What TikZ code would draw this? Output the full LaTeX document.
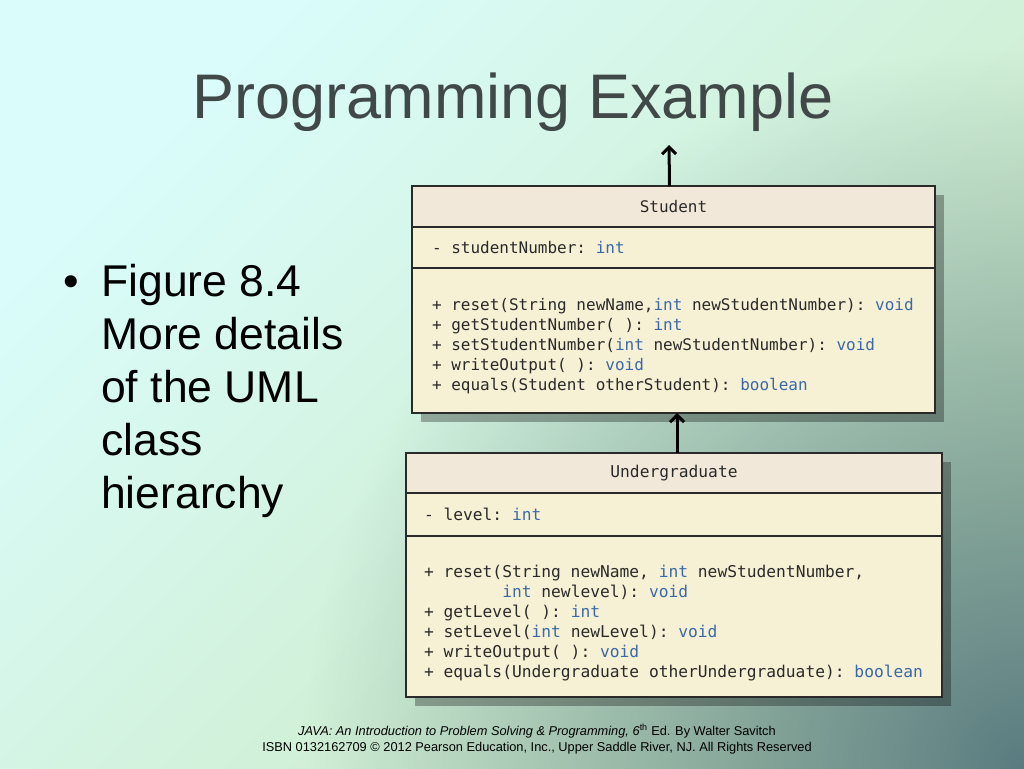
\documentclass[tikz,border=0pt]{standalone}
\usepackage{fontspec}
\setmainfont{Liberation Sans}
\newfontfamily\umlfont{DejaVu Sans Mono}
\usepackage{tikz}
\usetikzlibrary{positioning,shadows,fadings,arrows.meta}
\definecolor{bgcyan}{HTML}{DAFDFC}
\definecolor{bgmid}{HTML}{D6F3D8}
\definecolor{bggreen}{HTML}{CCE9C2}
\definecolor{bgdark}{HTML}{5A7C80}
\definecolor{titlegrey}{HTML}{404848}
\definecolor{headfill}{HTML}{F2E8DA}
\definecolor{bodyfill}{HTML}{F6F0D4}
\definecolor{umlline}{HTML}{2A2A2A}
\definecolor{typeblue}{HTML}{3A68A8}
\newcommand{\ty}[1]{\textcolor{typeblue}{#1}}
\newcommand{\topgap}[1]{\rule{0pt}{#1}}
\newcommand{\umltext}{\umlfont\fontsize{16}{20}\selectfont\frenchspacing}
\newcommand{\umlwide}{\umlfont\fontsize{16.25}{20}\selectfont\frenchspacing}
\tikzfading[name=cornerfade,inner color=transparent!0,outer color=transparent!100]

\begin{document}
\begin{tikzpicture}
    [x=1pt,y=-1pt,node distance=0pt,
     part/.style={draw=umlline,line width=1.4pt,rectangle,outer sep=0pt,inner xsep=20pt,inner ysep=0pt,
       align=flush left,text=umlline,font=\umltext,
       drop shadow={shadow xshift=9pt,shadow yshift=-9pt,fill=black,opacity=0.3}},
     head/.style={part,fill=headfill,align=flush center},
     body/.style={part,fill=bodyfill},
     wide/.style={font=\umlwide,inner xsep=18pt},
     inherit/.style={line width=3pt,-{Straight Barb[length=7pt,width=14pt]}}]
    \useasboundingbox (0,0) rectangle (1024,768);
    % background
    \begin{scope}
      \clip (0,0) rectangle (1024,768);
      \shade[top color=bgcyan,middle color=bgmid,bottom color=bggreen,shading angle=45] (0,0) rectangle (1024,768);
      \fill[bgdark,path fading=cornerfade] (1024,768) circle (720);
    \end{scope}
    \node[font=\fontsize{63}{63}\selectfont,text=titlegrey,anchor=base] (title) at (513,118) {Programming Example};
    \node[font=\fontsize{44.5}{53}\selectfont,anchor=base west] (dot) at (60,296) {\textbullet};
    \node[font=\fontsize{44.5}{53}\selectfont,anchor=base west,align=flush left,inner sep=0pt] (caption) at (101,508)
      {Figure 8.4\\More details\\of the UML\\class\\hierarchy};
    % class Student
    \node[head,text width=483pt,minimum height=41pt,anchor=north west] (stuhead) at (412,186) {Student};
    \node[body,text width=483pt,minimum height=41pt,below=of stuhead] (stuattr) {- studentNumber: \ty{int}};
    \node[body,text width=483pt,minimum height=145pt,below=of stuattr] (stuops)
      {\topgap{23pt}+ reset(String newName,\ty{int} newStudentNumber): \ty{void}\\
       + getStudentNumber( ): \ty{int}\\
       + setStudentNumber(\ty{int} newStudentNumber): \ty{void}\\
       + writeOutput( ): \ty{void}\\
       + equals(Student otherStudent): \ty{boolean}};
    % class Undergraduate
    \node[head,wide,text width=500pt,minimum height=40pt,anchor=north west] (ughead) at (406,453) {Undergraduate};
    \node[body,wide,text width=500pt,minimum height=43pt,below=of ughead] (ugattr) {- level: \ty{int}};
    \node[body,wide,text width=500pt,minimum height=161pt,below=of ugattr] (ugops)
      {\topgap{26pt}+ reset(String newName, \ty{int} newStudentNumber,\\
       \phantom{+ reset(}\ty{int} newlevel): \ty{void}\\
       + getLevel( ): \ty{int}\\
       + setLevel(\ty{int} newLevel): \ty{void}\\
       + writeOutput( ): \ty{void}\\
       + equals(Undergraduate otherUndergraduate): \ty{boolean}};
    \coordinate (super) at (669,145);
    \draw[inherit] ([xshift=-4pt]stuhead.north) -- (super);
    \draw[inherit] ([xshift=3pt]ughead.north) -- ([xshift=3pt]ughead.north |- stuops.south);
    \node[font=\fontsize{12.8}{16}\selectfont,align=center,anchor=base] (credit) at (537,751)
      {\textit{JAVA: An Introduction to Problem Solving \& Programming, 6}\textsuperscript{th} Ed. By Walter Savitch\\
       ISBN 0132162709 © 2012 Pearson Education, Inc., Upper Saddle River, NJ. All Rights Reserved};
\end{tikzpicture}
\end{document}
